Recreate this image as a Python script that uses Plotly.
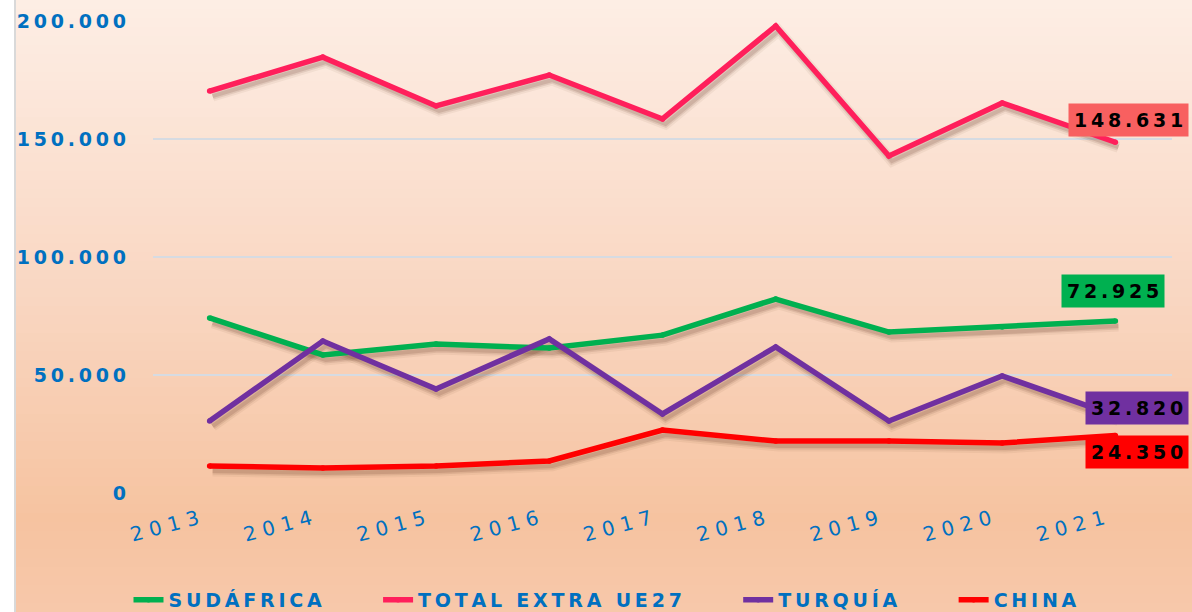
import plotly.graph_objects as go

# ---------------- data ----------------
years = ["2013", "2014", "2015", "2016", "2017", "2018", "2019", "2020", "2021"]
sudafrica = [74200, 58500, 63100, 61400, 66900, 82200, 68200, 70300, 72925]
total_extra = [170300, 184700, 164000, 177100, 158500, 197900, 142800, 165300, 148631]
turquia = [30500, 64400, 44100, 65300, 33500, 61900, 30500, 49600, 32820]
china = [11400, 10600, 11400, 13600, 26700, 22000, 22000, 21200, 24350]

series_names = ["SUDÁFRICA", "TOTAL EXTRA UE27", "TURQUÍA", "CHINA"]
series_values = [sudafrica, total_extra, turquia, china]
series_colors = ["#00B050", "#FF1F5B", "#7030A0", "#FF0000"]
label_colors = ["#00B050", "#F86060", "#7030A0", "#FF0000"]

y_ticks = [0, 50000, 100000, 150000, 200000]

# ---------------- layout geometry ----------------
W, H = 1192, 612
ML, MR, MT, MB = 153, 20, 21, 119
PW, PH = W - ML - MR, H - MT - MB
YMAX = 200000
THIN = "\u2009"


def spaced(s, sep=THIN):
    return sep.join(list(s))


def fmt(v):
    return f"{v:,}".replace(",", ".")


def px_x(p):
    return (p - ML) / PW


def px_y(p):
    return (H - MB - p) / PH


def hexrgb(h):
    h = h.lstrip("#")
    return tuple(int(h[i:i + 2], 16) for i in (0, 2, 4))


fig = go.Figure()

# invisible host trace for the visible axes
fig.add_trace(go.Scatter(x=years, y=total_extra, mode="lines", line=dict(width=0),
                         opacity=0, showlegend=False, hoverinfo="skip",
                         xaxis="x", yaxis="y"))

# shadows
for vals in series_values:
    for w, a in [(11, 0.06), (7, 0.11), (4, 0.14)]:
        fig.add_trace(go.Scatter(x=years, y=vals, mode="lines",
                                 line=dict(color=f"rgba(90,45,25,{a})", width=w),
                                 showlegend=False, hoverinfo="skip",
                                 xaxis="x2", yaxis="y2"))

# main lines
for name, vals, col in zip(series_names, series_values, series_colors):
    fig.add_trace(go.Scatter(x=years, y=vals, mode="lines+markers",
                             name=spaced(name) + "\u2003\u2003\u2002" + THIN,
                             line=dict(color=col, width=5.5),
                             marker=dict(color=col, size=5.5),
                             xaxis="x3", yaxis="y3"))

# ---------------- background gradient ----------------
shapes = []
stops = [(0, "#FDEEE5"), (300, "#F9D6C1"), (520, "#F6C3A0"), (612, "#F7C8AA")]
N = 68
for i in range(N):
    p0 = H * i / N
    p1 = H * (i + 1) / N
    pm = (p0 + p1) / 2
    for j in range(len(stops) - 1):
        if stops[j][0] <= pm <= stops[j + 1][0]:
            t = (pm - stops[j][0]) / (stops[j + 1][0] - stops[j][0])
            c0, c1 = hexrgb(stops[j][1]), hexrgb(stops[j + 1][1])
            c = tuple(round(c0[k] + (c1[k] - c0[k]) * t) for k in range(3))
            break
    shapes.append(dict(type="rect", xref="paper", yref="paper", layer="below",
                       x0=px_x(16), x1=px_x(W + 5), y0=px_y(p1 + 0.6), y1=px_y(p0 - 0.1),
                       fillcolor=f"rgb{c}", line=dict(width=0)))
shapes.append(dict(type="line", xref="paper", yref="paper", layer="below",
                   x0=px_x(15), x1=px_x(15), y0=px_y(0), y1=px_y(H),
                   line=dict(color="#D9D9D9", width=2)))

# ---------------- end labels ----------------
offsets = [  # (xanchor, xshift, yshift)
    ("center", -2, 30),
    ("right", 74, 22),
    ("right", 74, 8),
    ("right", 74, -16),
]
last = len(years) - 1
annotations = []
for vals, col, (xa, xs, ys) in zip(series_values, label_colors, offsets):
    annotations.append(dict(x=last, y=vals[-1], xref="x", yref="y",
                            text="<b>" + spaced(fmt(vals[-1])) + "</b>", showarrow=False,
                            xanchor=xa, yanchor="middle", xshift=xs, yshift=ys,
                            bgcolor=col, borderpad=5,
                            font=dict(family="DejaVu Sans", size=19, color="#000000")))

dx = 9 / PW
dy = YMAX / PH
sx, sy = 3, 5

axis_common = dict(type="category", categoryorder="array", categoryarray=years)

fig.update_layout(
    width=W, height=H,
    margin=dict(l=ML, r=MR, t=MT, b=MB, autoexpand=False),
    paper_bgcolor="white",
    plot_bgcolor="rgba(0,0,0,0)",
    shapes=shapes,
    annotations=annotations,
    xaxis=dict(**axis_common, range=[-0.5, 8.5], showgrid=False, zeroline=False,
               showline=False, ticks="", tickangle=-15,
               tickvals=years, ticktext=[spaced(y, " ") for y in years],
               ticklabelstandoff=10, ticklabelshift=-12,
               tickfont=dict(family="DejaVu Sans", size=20, color="#0070C0")),
    yaxis=dict(range=[0, YMAX], showgrid=True, gridcolor="#D6DBE2", gridwidth=2,
               zeroline=False, showline=False, ticks="",
               tickvals=y_ticks, ticktext=[spaced(fmt(v)) for v in y_ticks],
               ticklabelstandoff=26,
               tickfont=dict(family="DejaVu Sans", size=19, color="#0070C0",
                             weight="bold")),
    xaxis2=dict(**axis_common, overlaying="x", visible=False,
                range=[-0.5 - sx * dx, 8.5 - sx * dx]),
    yaxis2=dict(overlaying="y", visible=False,
                range=[sy * dy, YMAX + sy * dy]),
    xaxis3=dict(**axis_common, overlaying="x", visible=False, range=[-0.5, 8.5]),
    yaxis3=dict(overlaying="y", visible=False, range=[0, YMAX]),
    showlegend=True,
    legend=dict(orientation="h", xref="container", yref="container",
                x=0.5 + 35 / W, xanchor="center", y=12 / H, yanchor="middle",
                bgcolor="rgba(0,0,0,0)", itemwidth=30,
                font=dict(family="DejaVu Sans", size=19, color="#0070C0",
                          weight="bold")),
    hovermode=False,
)

fig.write_html("out.html", config={"displayModeBar": False},
               post_script="document.body.style.margin='0';document.body.style.padding='0';")
